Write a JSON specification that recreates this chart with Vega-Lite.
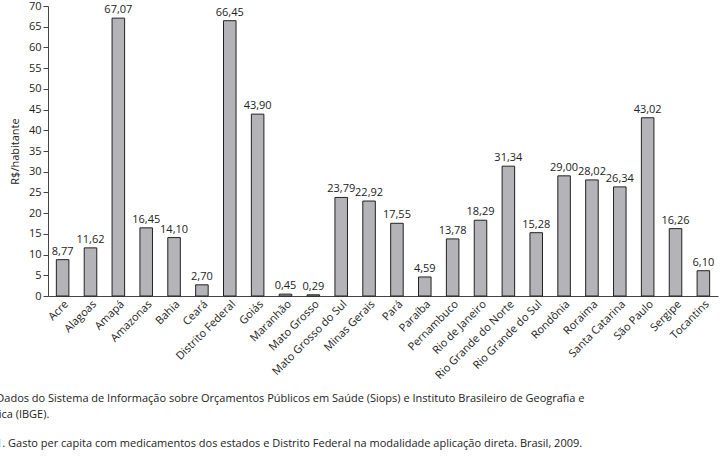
{
  "$schema": "https://vega.github.io/schema/vega-lite/v6.json",
  "width": 670,
  "height": 290,
  "autosize": "none",
  "padding": {"left": 48, "top": 6, "right": 2, "bottom": 167},
  "background": "white",
  "config": {"font": "Open Sans", "view": {"stroke": null}},
  "title": {
    "text": ["Fonte: Dados do Sistema de Informação sobre Orçamentos Públicos em Saúde (Siops) e Instituto Brasileiro de Geografia e", "Estatística (IBGE)."],
    "subtitle": "Figura 1. Gasto per capita com medicamentos dos estados e Distrito Federal na modalidade aplicação direta. Brasil, 2009.",
    "orient": "bottom",
    "anchor": "start",
    "dx": -48,
    "offset": 12,
    "fontSize": 11,
    "fontWeight": "normal",
    "color": "#222",
    "lineHeight": 16,
    "subtitleFontSize": 11,
    "subtitleColor": "#222",
    "subtitlePadding": 18
  },
  "data": {"values": [
    {"uf": "Acre", "v": 8.77, "t": "8,77"},
    {"uf": "Alagoas", "v": 11.62, "t": "11,62"},
    {"uf": "Amapá", "v": 67.07, "t": "67,07"},
    {"uf": "Amazonas", "v": 16.45, "t": "16,45"},
    {"uf": "Bahia", "v": 14.10, "t": "14,10"},
    {"uf": "Ceará", "v": 2.70, "t": "2,70"},
    {"uf": "Distrito Federal", "v": 66.45, "t": "66,45"},
    {"uf": "Goiás", "v": 43.90, "t": "43,90"},
    {"uf": "Maranhão", "v": 0.45, "t": "0,45"},
    {"uf": "Mato Grosso", "v": 0.29, "t": "0,29"},
    {"uf": "Mato Grosso do Sul", "v": 23.79, "t": "23,79"},
    {"uf": "Minas Gerais", "v": 22.92, "t": "22,92"},
    {"uf": "Pará", "v": 17.55, "t": "17,55"},
    {"uf": "Paraíba", "v": 4.59, "t": "4,59"},
    {"uf": "Pernambuco", "v": 13.78, "t": "13,78"},
    {"uf": "Rio de Janeiro", "v": 18.29, "t": "18,29"},
    {"uf": "Rio Grande do Norte", "v": 31.34, "t": "31,34"},
    {"uf": "Rio Grande do Sul", "v": 15.28, "t": "15,28"},
    {"uf": "Rondônia", "v": 29.00, "t": "29,00"},
    {"uf": "Roraima", "v": 28.02, "t": "28,02"},
    {"uf": "Santa Catarina", "v": 26.34, "t": "26,34"},
    {"uf": "São Paulo", "v": 43.02, "t": "43,02"},
    {"uf": "Sergipe", "v": 16.26, "t": "16,26"},
    {"uf": "Tocantins", "v": 6.10, "t": "6,10"}
  ]},
  "encoding": {
    "x": {"field": "uf", "type": "nominal", "sort": null, "title": null,
      "scale": {"paddingInner": 0.55, "paddingOuter": 0.3},
      "axis": {"labelAngle": -45, "labelFontSize": 11, "labelColor": "#222", "domainColor": "#444", "ticks": false, "labelPadding": 2}},
    "y": {"field": "v", "type": "quantitative", "title": "R$/habitante",
      "scale": {"domain": [0, 70]},
      "axis": {"values": [0,5,10,15,20,25,30,35,40,45,50,55,60,65,70], "grid": false, "labelFontSize": 11, "labelColor": "#222", "titleFontSize": 11, "titleFontWeight": "normal", "titleColor": "#222", "domainColor": "#444", "tickColor": "#444", "titlePadding": 8}}
  },
  "layer": [
    {"mark": {"type": "bar", "fill": "#b4b4b8", "stroke": "#222", "strokeWidth": 1}, "encoding": {}},
    {"mark": {"type": "text", "dy": -8, "fontSize": 11, "color": "#222"}, "encoding": {"text": {"field": "t"}}}
  ]
}
